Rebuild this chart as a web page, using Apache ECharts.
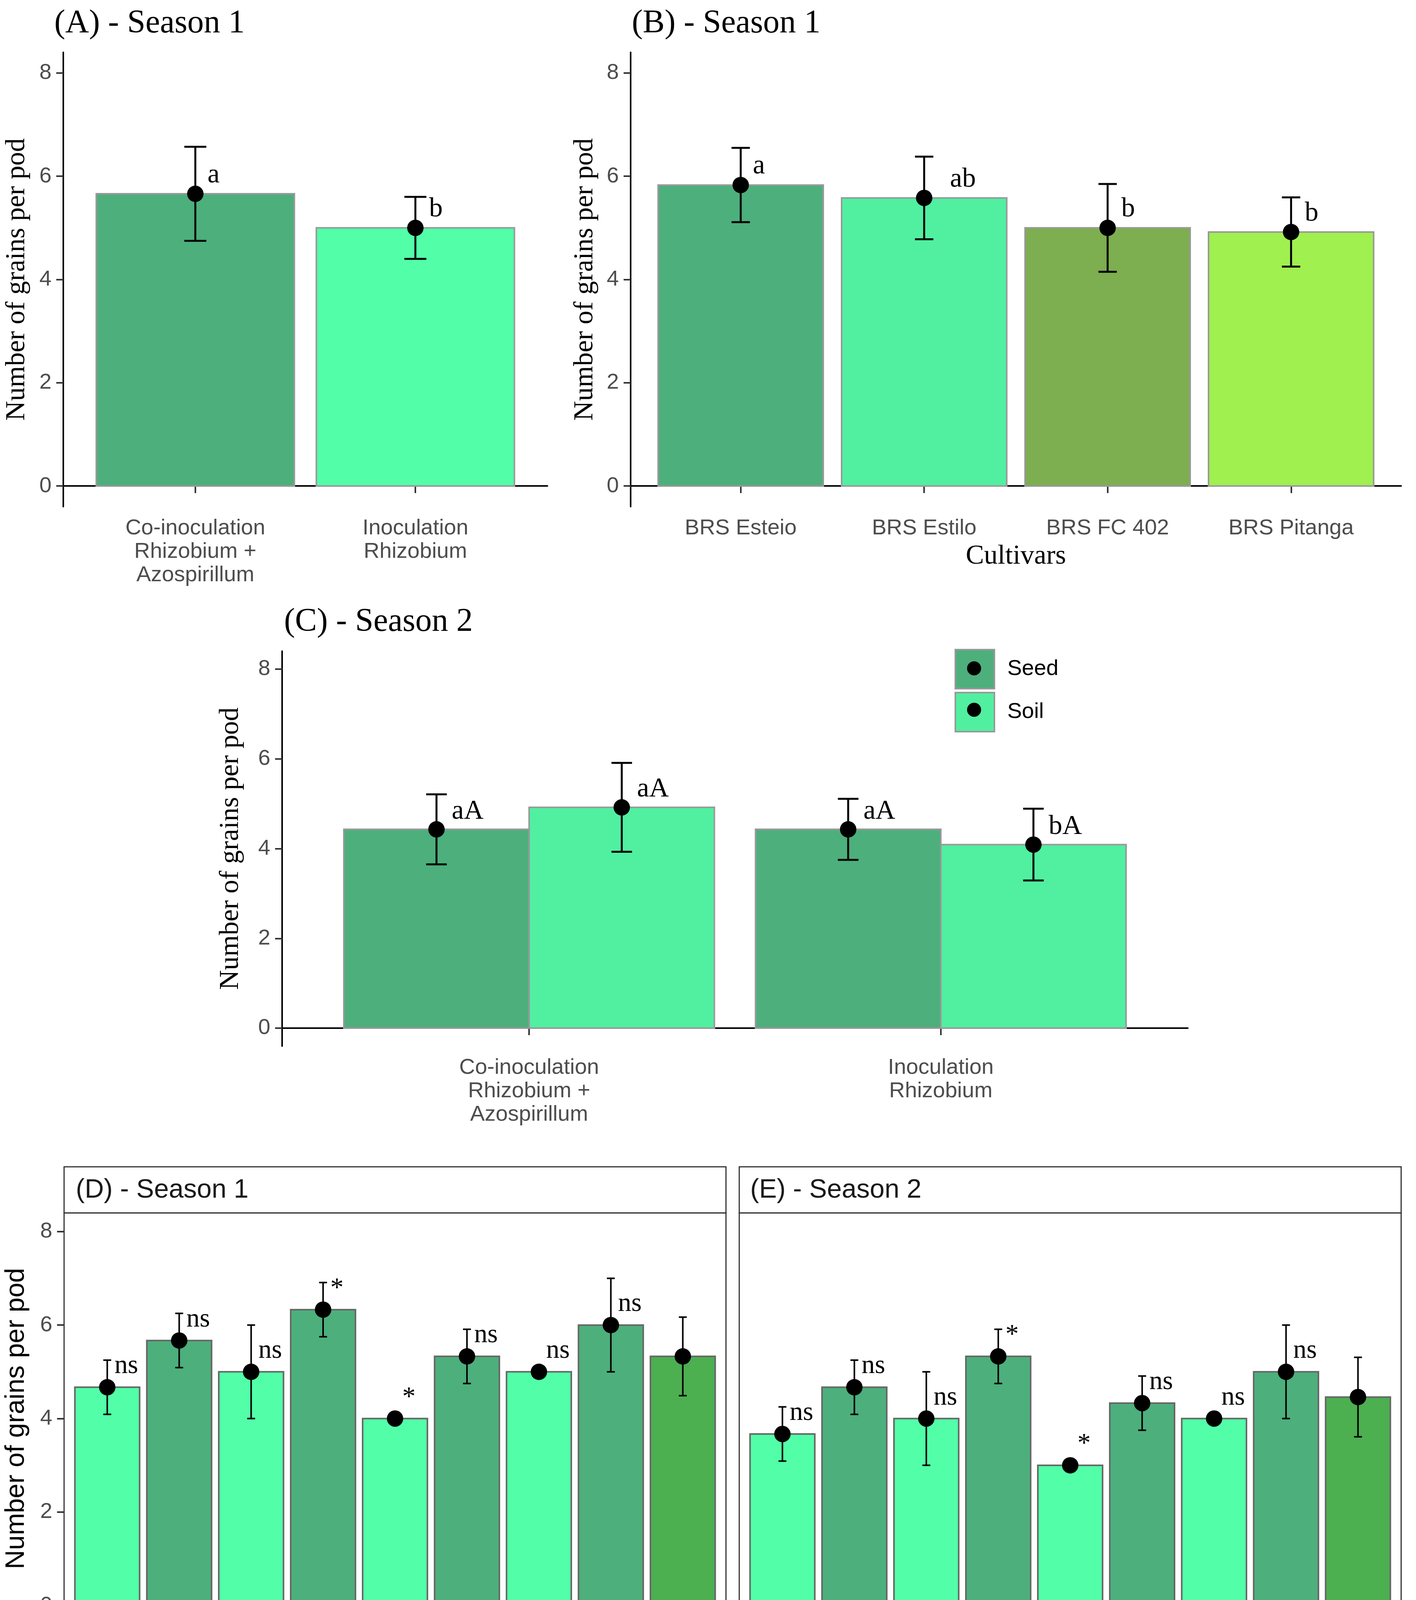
<!DOCTYPE html>
<html>
<head>
<meta charset="utf-8">
<script src="https://cdn.jsdelivr.net/npm/echarts@6.0.0/dist/echarts.min.js"></script>
<style>
  html, body { margin: 0; padding: 0; background: #fff; }
  #chart { width: 3624px; height: 4485px; }
</style>
</head>
<body>
<div id="chart"></div>
<script>
// ---- data ----
const yTicks = [0, 2, 4, 6, 8]

// (A) inoculation, season 1
const inocCats = ['Co-inoculation\nRhizobium +\nAzospirillum', 'Inoculation\nRhizobium']
const aMeans = [5.66, 5.0]
const aErrs = [0.91, 0.6]
const aLetters = ['a', 'b']

// (B) cultivars, season 1
const cultivars = ['BRS Esteio', 'BRS Estilo', 'BRS FC 402', 'BRS Pitanga']
const bMeans = [5.83, 5.58, 5.0, 4.92]
const bErrs = [0.72, 0.8, 0.85, 0.67]
const bLetters = ['a', 'ab', 'b', 'b']

// (C) inoculation x application, season 2
const seedMeans = [4.43, 4.43]
const seedErrs = [0.78, 0.68]
const seedLetters = ['aA', 'aA']
const soilMeans = [4.92, 4.09]
const soilErrs = [0.99, 0.8]
const soilLetters = ['aA', 'bA']

// (D) / (E) factorial vs. additional treatments
const treatments = ['C1N0', 'C1N1', 'C2N0', 'C2N1', 'C3N0', 'C3N1', 'C4N0', 'C4N1', 'Factorial']
const treatGroup = ['N0', 'N1', 'N0', 'N1', 'N0', 'N1', 'N0', 'N1', 'F']
const dMeans = [4.67, 5.67, 5.0, 6.33, 4.0, 5.33, 5.0, 6.0, 5.33]
const dErrs = [0.58, 0.58, 1.0, 0.58, 0, 0.58, 0, 1.0, 0.84]
const eMeans = [3.67, 4.67, 4.0, 5.33, 3.0, 4.33, 4.0, 5.0, 4.46]
const eErrs = [0.58, 0.58, 1.0, 0.58, 0, 0.58, 0, 1.0, 0.85]
const signif = ['ns', 'ns', 'ns', '*', '*', 'ns', 'ns', 'ns', '']

// ---- styling ----
const SERIF = 'Liberation Serif'
const SANS = 'Liberation Sans'
const DARK = '#4DAF7C'
const MINT = '#52FFA8'
const MINT2 = '#50F0A0'
const cultColors = ['#4DAF7C', '#50F0A0', '#7DAE4F', '#A0F04F']
const groupColors = { N0: MINT, N1: DARK, F: '#4CAF50' }

const measureCtx = document.createElement('canvas').getContext('2d')
function textWidth(s, size, family) {
  measureCtx.font = size + 'px "' + family + '"'
  return measureCtx.measureText(s).width
}

// x positions 1..n
function idx(arr, shift) {
  return arr.map((v, i) => i + 1 + (shift || 0))
}

function barSeries(ax, xs, means, colorFn, border, halfW, extra) {
  return Object.assign({
    type: 'custom',
    xAxisIndex: ax, yAxisIndex: ax,
    z: 2,
    data: xs.map((x, i) => [x, means[i]]),
    renderItem: (params, api) => {
      const x = api.value(0), y = api.value(1)
      const p0 = api.coord([x - halfW, y])
      const p1 = api.coord([x + halfW, 0])
      return {
        type: 'rect',
        shape: { x: p0[0], y: p0[1], width: p1[0] - p0[0], height: p1[1] - p0[1] },
        style: { fill: colorFn(params.dataIndex), stroke: border, lineWidth: 4 }
      }
    }
  }, extra || {})
}

function errSeries(ax, xs, means, errs, cap, lw) {
  return {
    type: 'custom',
    xAxisIndex: ax, yAxisIndex: ax,
    z: 3,
    data: xs.map((x, i) => [x, means[i], errs[i]]),
    renderItem: (params, api) => {
      const x = api.value(0), m = api.value(1), e = api.value(2)
      const top = api.coord([x, m + e])
      const bot = api.coord([x, m - e])
      const l = api.coord([x - cap / 2, m])[0]
      const r = api.coord([x + cap / 2, m])[0]
      const st = { stroke: '#000', lineWidth: lw }
      return {
        type: 'group',
        children: [
          { type: 'line', shape: { x1: top[0], y1: top[1], x2: bot[0], y2: bot[1] }, style: st },
          { type: 'line', shape: { x1: l, y1: top[1], x2: r, y2: top[1] }, style: st },
          { type: 'line', shape: { x1: l, y1: bot[1], x2: r, y2: bot[1] }, style: st }
        ]
      }
    }
  }
}

function pointSeries(ax, xs, means) {
  return {
    type: 'scatter',
    xAxisIndex: ax, yAxisIndex: ax,
    z: 4,
    symbolSize: 42,
    itemStyle: { color: '#000', opacity: 1 },
    data: xs.map((x, i) => [x, means[i]])
  }
}

// mode 'width': left edge shifted by text width (ggplot hjust = -1)
function labelSeries(ax, xs, means, labels, dx, dy, size, mode) {
  return {
    type: 'custom',
    xAxisIndex: ax, yAxisIndex: ax,
    z: 5,
    data: xs.map((x, i) => [x, means[i]]),
    renderItem: (params, api) => {
      const txt = labels[params.dataIndex]
      const p = api.coord([api.value(0) + dx, api.value(1) + dy])
      const shift = mode === 'width' ? textWidth(txt, size, SERIF) : 0
      return {
        type: 'text',
        x: p[0] + shift, y: p[1],
        style: { text: txt, fontFamily: SERIF, fontSize: size, fill: '#000', align: 'left', verticalAlign: 'middle' }
      }
    }
  }
}

function xAxis(grid, cats, opts) {
  const vals = cats.map((c, i) => i + 1)
  return Object.assign({
    type: 'value', gridIndex: grid,
    min: 0.4, max: cats.length + 0.6,
    splitLine: { show: false },
    axisLine: { show: true, lineStyle: { color: '#000', width: 4 } },
    axisTick: { show: true, customValues: vals, length: 18, lineStyle: { color: '#333', width: 4 } },
    axisLabel: {
      show: true, customValues: vals,
      formatter: v => cats[Math.round(v) - 1],
      fontFamily: SANS, fontSize: 56, lineHeight: 60, color: '#4D4D4D', margin: 26
    }
  }, opts || {})
}

function yAxis(grid, opts) {
  return Object.assign({
    type: 'value', gridIndex: grid,
    min: -0.4, max: 8.4,
    splitLine: { show: false },
    axisLine: { show: true, lineStyle: { color: '#000', width: 4 } },
    axisTick: { show: true, customValues: yTicks, length: 18, lineStyle: { color: '#333', width: 4 } },
    axisLabel: { show: true, customValues: yTicks, fontFamily: SANS, fontSize: 56, color: '#4D4D4D', margin: 30 },
    name: 'Number of grains per pod',
    nameLocation: 'middle', nameRotate: 90, nameGap: 83,
    nameTextStyle: { fontFamily: SERIF, fontSize: 70, color: '#000' }
  }, opts || {})
}

const titleStyle = { fontFamily: SERIF, fontSize: 84, fontWeight: 'normal', color: '#000' }
const panelBorder = { show: true, borderColor: '#333', borderWidth: 3, backgroundColor: 'transparent' }
const dtLabel = {
  show: true, customValues: idx(treatments), rotate: 45,
  formatter: v => treatments[Math.round(v) - 1],
  fontFamily: SANS, fontSize: 56, lineHeight: 56, color: '#4D4D4D',
  align: 'right', verticalAlign: 'top', margin: 29
}

const option = {
  backgroundColor: '#fff',
  animation: false,
  title: [
    { text: '(A) - Season 1', left: 134, top: 14, textStyle: titleStyle },
    { text: '(B) - Season 1', left: 1612, top: 14, textStyle: titleStyle },
    { text: '(C) - Season 2', left: 722, top: 1546, textStyle: titleStyle }
  ],
  legend: {
    left: 2443, top: 1661, orient: 'vertical', padding: 0,
    itemWidth: 100, itemHeight: 100, itemGap: 6,
    icon: 'rect',
    textStyle: { fontFamily: SANS, fontSize: 56, color: '#000', padding: [0, 0, 0, 28] },
    data: [
      { name: 'Seed', itemStyle: { color: DARK, borderColor: '#999', borderWidth: 4 } },
      { name: 'Soil', itemStyle: { color: MINT2, borderColor: '#999', borderWidth: 4 } }
    ]
  },
  grid: [
    { left: 162, top: 134, width: 1239, height: 1163, outerBoundsMode: 'none' },
    { left: 1614, top: 134, width: 1972, height: 1163, outerBoundsMode: 'none' },
    { left: 722, top: 1667, width: 2318, height: 1011, outerBoundsMode: 'none' },
    Object.assign({ left: 164, top: 3105, width: 1694, height: 1053, outerBoundsMode: 'none' }, panelBorder),
    Object.assign({ left: 1892, top: 3105, width: 1694, height: 1053, outerBoundsMode: 'none' }, panelBorder)
  ],
  xAxis: [
    xAxis(0, inocCats),
    xAxis(1, cultivars, {
      name: 'Cultivars', nameLocation: 'middle', nameGap: 93,
      nameTextStyle: { fontFamily: SERIF, fontSize: 70, color: '#000' }
    }),
    xAxis(2, inocCats),
    xAxis(3, treatments, { axisLine: { show: false }, axisLabel: dtLabel }),
    xAxis(4, treatments, { axisLine: { show: false }, axisLabel: dtLabel })
  ],
  yAxis: [
    yAxis(0),
    yAxis(1, { nameGap: 81 }),
    yAxis(2, { nameGap: 96 }),
    yAxis(3, {
      axisLine: { show: false }, nameGap: 88,
      nameTextStyle: { fontFamily: SANS, fontSize: 68, color: '#000' }
    }),
    yAxis(4, { axisLine: { show: false }, axisTick: { show: false }, axisLabel: { show: false }, name: '' })
  ],
  graphic: [
    { type: 'rect', shape: { x: 164, y: 2987, width: 1694, height: 118 }, style: { fill: '#fff', stroke: '#333', lineWidth: 3 } },
    { type: 'rect', shape: { x: 1892, y: 2987, width: 1694, height: 118 }, style: { fill: '#fff', stroke: '#333', lineWidth: 3 } },
    { type: 'text', x: 194, y: 3047, style: { text: '(D) - Season 1', fontFamily: SANS, fontSize: 68, fill: '#1A1A1A', verticalAlign: 'middle' } },
    { type: 'text', x: 1920, y: 3047, style: { text: '(E) - Season 2', fontFamily: SANS, fontSize: 68, fill: '#1A1A1A', verticalAlign: 'middle' } },
    { type: 'text', x: 1865, y: 4420, style: { text: 'Factorial vs. additional treatments', fontFamily: SANS, fontSize: 68, fill: '#000', align: 'center', verticalAlign: 'middle' } },
    { type: 'circle', shape: { cx: 2493, cy: 1711, r: 18 }, style: { fill: '#000' }, z: 100 },
    { type: 'circle', shape: { cx: 2493, cy: 1817, r: 18 }, style: { fill: '#000' }, z: 100 }
  ],
  series: [
    // A
    barSeries(0, idx(inocCats), aMeans, i => [DARK, MINT][i], '#999', 0.45),
    errSeries(0, idx(inocCats), aMeans, aErrs, 0.1, 5),
    pointSeries(0, idx(inocCats), aMeans),
    labelSeries(0, idx(inocCats), aMeans, aLetters, 0, 0.36, 70, 'width'),
    // B
    barSeries(1, idx(cultivars), bMeans, i => cultColors[i], '#999', 0.45),
    errSeries(1, idx(cultivars), bMeans, bErrs, 0.1, 5),
    pointSeries(1, idx(cultivars), bMeans),
    labelSeries(1, idx(cultivars), bMeans, bLetters, 0, 0.36, 70, 'width'),
    // C
    barSeries(2, idx(inocCats, -0.225), seedMeans, () => DARK, '#999', 0.225, { name: 'Seed', itemStyle: { color: DARK } }),
    barSeries(2, idx(inocCats, 0.225), soilMeans, () => MINT2, '#999', 0.225, { name: 'Soil', itemStyle: { color: MINT2 } }),
    errSeries(2, idx(inocCats, -0.225), seedMeans, seedErrs, 0.05, 5),
    errSeries(2, idx(inocCats, 0.225), soilMeans, soilErrs, 0.05, 5),
    pointSeries(2, idx(inocCats, -0.225), seedMeans),
    pointSeries(2, idx(inocCats, 0.225), soilMeans),
    labelSeries(2, idx(inocCats, -0.225), seedMeans, seedLetters, 0.037, 0.4, 70),
    labelSeries(2, idx(inocCats, 0.225), soilMeans, soilLetters, 0.037, 0.4, 70),
    // D
    barSeries(3, idx(treatments), dMeans, i => groupColors[treatGroup[i]], '#666', 0.45),
    errSeries(3, idx(treatments), dMeans, dErrs, 0.11, 4),
    pointSeries(3, idx(treatments), dMeans),
    labelSeries(3, idx(treatments), dMeans, signif, 0.1, 0.45, 68),
    // E
    barSeries(4, idx(treatments), eMeans, i => groupColors[treatGroup[i]], '#666', 0.45),
    errSeries(4, idx(treatments), eMeans, eErrs, 0.11, 4),
    pointSeries(4, idx(treatments), eMeans),
    labelSeries(4, idx(treatments), eMeans, signif, 0.1, 0.45, 68)
  ]
}

const chart = echarts.init(document.getElementById('chart'), null, { renderer: 'canvas' })
chart.setOption(option)
</script>
</body>
</html>
